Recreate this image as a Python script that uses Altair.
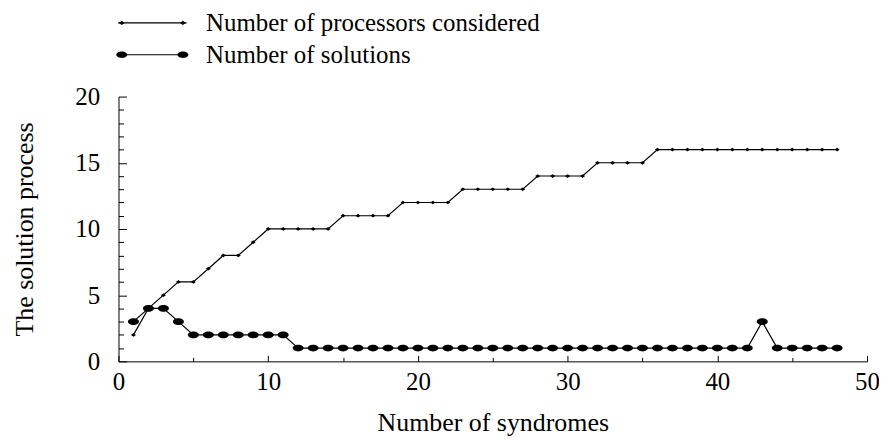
import altair as alt
import pandas as pd

syndromes = list(range(1, 49))
processors = [2, 4, 5, 6, 6, 7, 8, 8, 9, 10, 10, 10, 10, 10, 11, 11, 11, 11,
              12, 12, 12, 12, 13, 13, 13, 13, 13, 14, 14, 14, 14, 15, 15, 15, 15,
              16, 16, 16, 16, 16, 16, 16, 16, 16, 16, 16, 16, 16]
solutions = [3, 4, 4, 3, 2, 2, 2, 2, 2, 2, 2] + [1] * 31 + [3, 1, 1, 1, 1, 1]
series_names = ["Number of processors considered", "Number of solutions"]

rows = []
for name, vals in zip(series_names, [processors, solutions]):
    for s, v in zip(syndromes, vals):
        rows.append({"syndromes": s, "value": v, "series": name})
df = pd.DataFrame(rows)

FONT = "Liberation Serif"
LFS = 25   # tick labels
TFS = 26   # axis titles
GFS = 25   # legend labels
W, H = 752, 266

# marker shapes (unit coordinates)
diamond = "M -1 0 L 0 -0.75 L 1 0 L 0 0.75 Z"
ellipse = "M -1 0 A 1 0.6 0 1 0 1 0 A 1 0.6 0 1 0 -1 0 Z"
# legend: markers at both ends, and a separate connecting line
leg_proc = ("M -2.1 0 L -1.92 -0.13 L -1.74 0 L -1.92 0.13 Z "
            "M 1.74 0 L 1.92 -0.13 L 2.1 0 L 1.92 0.13 Z")
leg_sol = ("M -2.26 0 A 0.34 0.2 0 1 0 -1.58 0 A 0.34 0.2 0 1 0 -2.26 0 Z "
           "M 1.58 0 A 0.34 0.2 0 1 0 2.26 0 A 0.34 0.2 0 1 0 1.58 0 Z")
leg_line = "M -2.15 0 L 2.15 0"

xscale = alt.Scale(domain=[0, 50], nice=False)
yscale = alt.Scale(domain=[0, 20], nice=False)

LEGX, LEGY = 17, -91
ROWPAD = 2

x_main = alt.Axis(values=[0, 10, 20, 30, 40, 50], ticks=False, domain=True,
                  domainColor="black", domainWidth=1, grid=False,
                  labelFont=FONT, labelFontSize=LFS, labelColor="black",
                  labelPadding=8, labelFlush=False,
                  title="Number of syndromes", titleFont=FONT, titleFontSize=TFS,
                  titleFontWeight="normal", titleColor="black", titlePadding=15)
y_main = alt.Axis(values=[0, 5, 10, 15, 20], ticks=False, domain=True,
                  domainColor="black", domainWidth=1, grid=False,
                  labelFont=FONT, labelFontSize=LFS, labelColor="black",
                  labelPadding=19, labelFlush=False,
                  title="The solution process", titleFont=FONT, titleFontSize=TFS,
                  titleFontWeight="normal", titleColor="black", titlePadding=37)

x_ticks = alt.Axis(orient="top", offset=-H, values=list(range(0, 51, 5)),
                   labels=False, domain=False, grid=False, title=None,
                   tickColor="black", tickWidth=1,
                   tickSize={"condition": {"test": "datum.value % 10 === 0", "value": 6}, "value": 4})
y_ticks = alt.Axis(orient="right", offset=-W, values=list(range(0, 21)),
                   labels=False, domain=False, grid=False, title=None,
                   tickColor="black", tickWidth=1,
                   tickSize={"condition": {"test": "datum.value % 5 === 0", "value": 8}, "value": 5})

lines = alt.Chart(df).mark_line(strokeWidth=1.2).encode(
    x=alt.X("syndromes:Q", scale=xscale, axis=x_main),
    y=alt.Y("value:Q", scale=yscale, axis=y_main),
    color=alt.Color("series:N",
                    scale=alt.Scale(domain=series_names, range=["black", "black"]),
                    legend=alt.Legend(orient="none", legendX=LEGX, legendY=LEGY, title=None,
                                      symbolType=leg_line, symbolSize=1024,
                                      symbolStrokeWidth=1.2, symbolStrokeColor="black",
                                      labelFont=FONT, labelFontSize=GFS, labelColor="black",
                                      labelOffset=37, padding=0, rowPadding=ROWPAD,
                                      labelLimit=600)),
    order="syndromes:Q",
)

points = alt.Chart(df).mark_point(filled=True, color="black", opacity=1).encode(
    x=alt.X("syndromes:Q", scale=xscale, axis=x_ticks),
    y=alt.Y("value:Q", scale=yscale, axis=y_ticks),
    shape=alt.Shape("series:N", scale=alt.Scale(domain=series_names, range=[diamond, ellipse]), legend=None),
    size=alt.Size("series:N", scale=alt.Scale(domain=series_names, range=[25, 121]), legend=None),
)

legend_layer = alt.Chart(df).mark_point(filled=True, color="black", opacity=0).encode(
    x=alt.X("syndromes:Q", scale=xscale, axis=None),
    y=alt.Y("value:Q", scale=yscale, axis=None),
    shape=alt.Shape("series:N", scale=alt.Scale(domain=series_names, range=[leg_proc, leg_sol]),
                    legend=alt.Legend(orient="none", legendX=LEGX, legendY=LEGY, title=None,
                                      symbolSize=1024, symbolFillColor="black",
                                      symbolOpacity=1, labelFont=FONT, labelFontSize=GFS,
                                      labelColor="black", labelOpacity=0, labelOffset=37,
                                      padding=0, rowPadding=ROWPAD, labelLimit=600)),
)

chart = alt.layer(lines, points, legend_layer).resolve_scale(
    shape="independent", size="independent"
).resolve_axis(
    x="independent", y="independent"
).properties(
    width=W, height=H,
    autosize=alt.AutoSizeParams(type="none"),
    padding={"left": 111, "top": 88, "right": 12, "bottom": 75},
).configure(font=FONT).configure_view(stroke=None)

chart.save("out.html", embed_options={"renderer": "svg", "actions": False})
